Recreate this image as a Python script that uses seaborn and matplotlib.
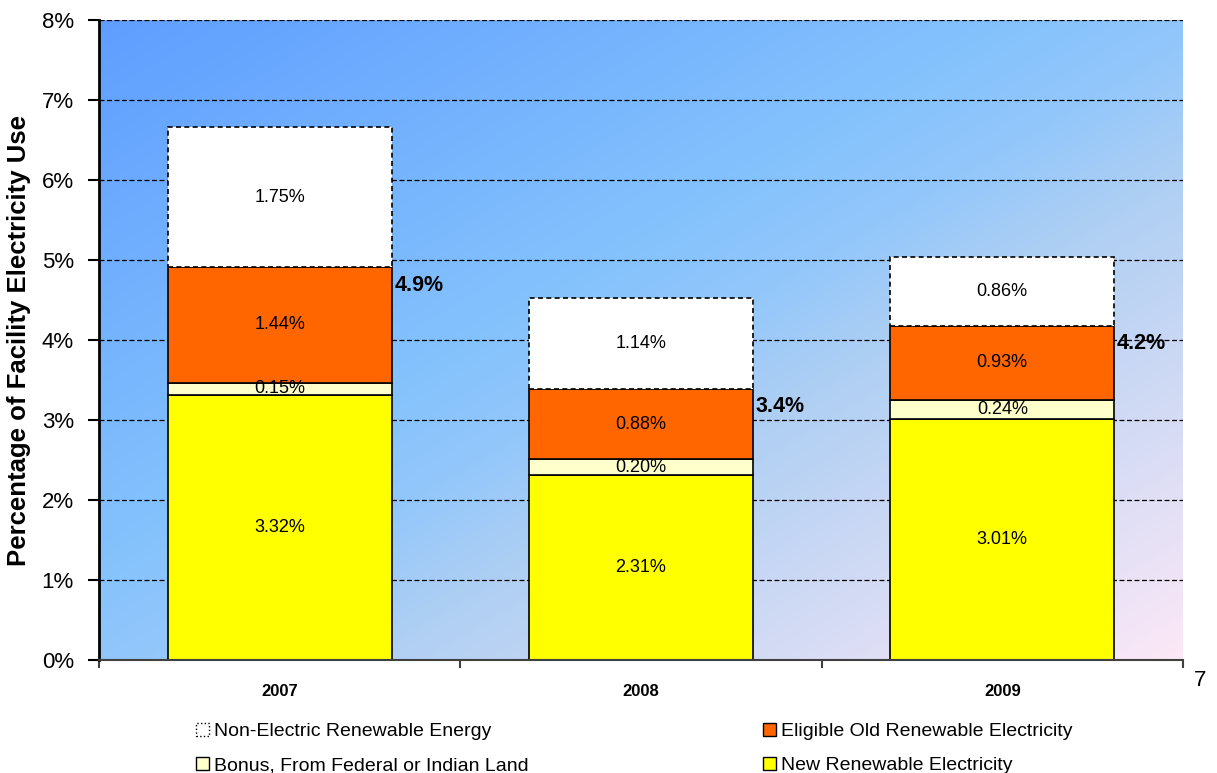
import numpy as np
import matplotlib.pyplot as plt
import seaborn as sns
from matplotlib.colors import LinearSegmentedColormap
from matplotlib.patches import Patch
from matplotlib.ticker import FuncFormatter

# Datos
years = ['2007', '2008', '2009']
new_renew = [3.32, 2.31, 3.01]
bonus = [0.15, 0.20, 0.24]
old_renew = [1.44, 0.88, 0.93]
non_elec = [1.75, 1.14, 0.86]
total_labels = ['4.9%', '3.4%', '4.2%']

sns.set_style('white')
plt.rcParams['font.family'] = ['Liberation Sans', 'DejaVu Sans']
plt.rcParams['text.color'] = 'black'
plt.rcParams['axes.labelcolor'] = 'black'
plt.rcParams['xtick.color'] = 'black'
plt.rcParams['ytick.color'] = 'black'

fig = plt.figure(figsize=(12.17, 7.73), dpi=100)
ax = fig.add_axes([0.0813, 0.146, 0.8907, 0.828])

# Fondo degradado diagonal
yy, xx = np.mgrid[0:1:200j, 0:1:300j]
t = (xx + yy) / 2
cmap = LinearSegmentedColormap.from_list('bg', [
    (0, '#5f9eff'), (0.42, '#84c2fd'), (0.52, '#93c7fb'),
    (0.62, '#aecff3'), (1, '#fce8f7')])
ax.imshow(t, cmap=cmap, extent=[0, 1, 0, 1], transform=ax.transAxes,
          aspect='auto', origin='upper', zorder=0, interpolation='bilinear')

# Barras apiladas
layers = [
    (new_renew, '#ffff00', '-'),
    (bonus, '#ffffcc', '-'),
    (old_renew, '#ff6600', '-'),
    (non_elec, 'white', (0, (3, 2))),
]
bottom = np.zeros(len(years))
for vals, col, ls in layers:
    sns.barplot(x=years, y=vals, bottom=bottom, color=col, saturation=1,
                width=0.62, edgecolor='black', linewidth=1.2, linestyle=ls,
                ax=ax, zorder=2)
    for i, v in enumerate(vals):
        ax.text(i, bottom[i] + v / 2, f'{v:.2f}%', ha='center', va='center',
                fontsize=13, zorder=4)
    bottom = bottom + np.array(vals)

# Totales de electricidad
elec_total = np.array(new_renew) + np.array(bonus) + np.array(old_renew)
for i, lab in enumerate(total_labels):
    ax.annotate(lab, xy=(i + 0.31, elec_total[i]), xytext=(2, -13),
                textcoords='offset points', ha='left', va='center',
                fontweight='bold', fontsize=15.5, zorder=4)

# Ejes
ax.set_xlim(-0.5, 2.5)
ax.set_ylim(0, 8)
ax.set_yticks(range(0, 9))
ax.yaxis.set_major_formatter(FuncFormatter(lambda v, p: f'{v:.0f}%'))
ax.set_xticks([0, 1, 2])
ax.set_xticklabels(years, fontweight='bold', fontsize=12)
ax.set_xticks([-0.5, 0.5, 1.5, 2.5], minor=True)
ax.tick_params(axis='x', which='major', length=0, pad=17)
ax.tick_params(axis='x', which='minor', bottom=True, length=6, width=1.5,
               color='#404040', direction='out')
ax.tick_params(axis='y', left=True, length=8, width=1.5, color='black',
               direction='out', labelsize=16, pad=10)
ax.set_xlabel('')
ax.set_ylabel('Percentage of Facility Electricity Use', fontsize=18.5,
              fontweight='bold', labelpad=8)

ax.yaxis.grid(True, linestyle=(0, (4, 2)), color='black', linewidth=0.9)
ax.set_axisbelow(True)

for s in ['top', 'right']:
    ax.spines[s].set_visible(False)
ax.spines['left'].set_color('black')
ax.spines['left'].set_linewidth(2)
ax.spines['bottom'].set_color('#404040')
ax.spines['bottom'].set_linewidth(1.5)

# Leyenda en dos columnas
h_ne = Patch(facecolor='white', edgecolor='black', linestyle=':', label='Non-Electric Renewable Energy')
h_bo = Patch(facecolor='#ffffcc', edgecolor='black', label='Bonus, From Federal or Indian Land')
h_old = Patch(facecolor='#ff6600', edgecolor='black', label='Eligible Old Renewable Electricity')
h_new = Patch(facecolor='#ffff00', edgecolor='black', label='New Renewable Electricity')
leg_kw = dict(loc='upper left', frameon=False, borderpad=0, borderaxespad=0,
              fontsize=14, handlelength=0.65, handleheight=0.65,
              handletextpad=0.3, labelspacing=0.85)
fig.legend(handles=[h_ne, h_bo], bbox_to_anchor=(196 / 1217, 1 - 723 / 773), **leg_kw)
fig.legend(handles=[h_old, h_new], bbox_to_anchor=(763 / 1217, 1 - 723 / 773), **leg_kw)

fig.text(1200 / 1217, 1 - 680 / 773, '7', fontsize=16, ha='center', va='center')

plt.savefig('out.png', dpi=100)
